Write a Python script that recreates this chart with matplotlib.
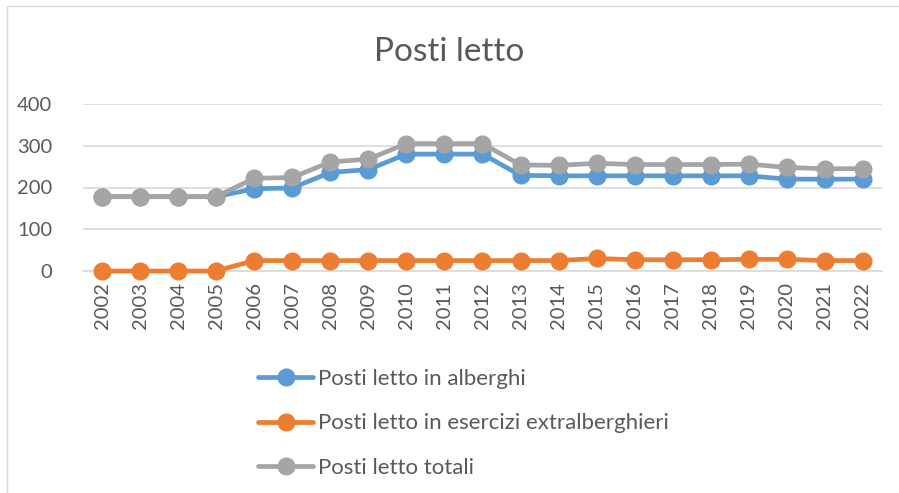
import numpy as np
import matplotlib
matplotlib.use("Agg")
import matplotlib.pyplot as plt
from matplotlib.patches import Rectangle

plt.rcParams['font.family'] = ['Lato', 'DejaVu Sans']

years = [str(y) for y in range(2002, 2023)]
alberghi = [178, 178, 178, 178, 197, 199, 236, 243, 280, 280, 280,
            229, 228, 228, 228, 228, 228, 228, 220, 220, 220]
extra = [0, 0, 0, 0, 25, 25, 25, 25, 25, 25, 25,
         25, 25, 30, 27, 27, 27, 28, 28, 25, 25]
totali = [178, 178, 178, 178, 222, 224, 261, 268, 305, 305, 305,
          254, 253, 258, 255, 255, 255, 256, 248, 245, 245]

text_col = '#595959'
grid_col = '#D9D9D9'

W, H = 899, 493
fig = plt.figure(figsize=(W / 100, H / 100), dpi=100)
ax = fig.add_axes([83 / W, (H - 271) / H, (882 - 83) / W, 167 / H])

x = np.arange(len(years))
series = [
    (alberghi, '#5B9BD5', 'Posti letto in alberghi'),
    (extra, '#ED7D31', 'Posti letto in esercizi extralberghieri'),
    (totali, '#A5A5A5', 'Posti letto totali'),
]
for vals, col, lab in series:
    ax.plot(x, vals, color=col, lw=3.4, marker='o', ms=12,
            label=lab, clip_on=False, solid_capstyle='round', zorder=3)

ax.set_xlim(-0.5, len(years) - 0.5)
ax.set_ylim(0, 400)
ax.set_yticks([0, 100, 200, 300, 400])
ax.set_xticks(x)
ax.set_xticklabels(years, rotation=90)
ax.tick_params(axis='both', length=0, labelsize=14.5, colors=text_col)
ax.tick_params(axis='y', pad=22)
ax.tick_params(axis='x', pad=8)
ax.grid(axis='y', color=grid_col, lw=1.2)
ax.set_axisbelow(True)
for s in ['top', 'right', 'left']:
    ax.spines[s].set_visible(False)
ax.spines['bottom'].set_color(grid_col)
ax.spines['bottom'].set_linewidth(1.2)

fig.text(0.5, (H - 52) / H, 'Posti letto', ha='center', va='center',
         fontsize=24, color=text_col)

leg = ax.legend(loc='upper left', bbox_to_anchor=(249 / W, (H - 360) / H),
                bbox_transform=fig.transFigure, frameon=False,
                fontsize=16, handlelength=2.5, handletextpad=0.2,
                labelspacing=1.1, labelcolor=text_col, borderaxespad=0)

fig.patches.append(Rectangle((7 / W, -0.1), 1.2, (H - 6) / H + 0.1,
                             transform=fig.transFigure, fill=False,
                             edgecolor='#D9D9D9', lw=1.0))

fig.savefig('out.png', dpi=100)
